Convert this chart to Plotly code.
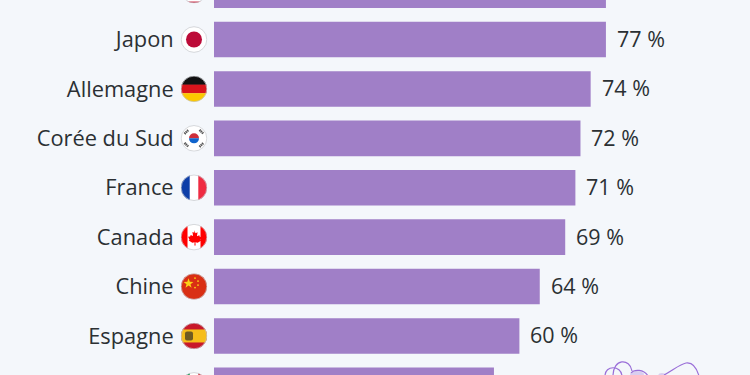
import base64
import plotly.graph_objects as go

countries = ["États-Unis", "Japon", "Allemagne", "Corée du Sud", "France", "Canada", "Chine", "Espagne", "Italie"]
values = [77, 77, 74, 72, 71, 69, 64, 60, 55]
value_labels = ["77 %", "77 %", "74 %", "72 %", "71 %", "69 %", "64 %", "60 %", "55 %"]

BG = "#f4f7fb"
BAR = "#a07fc7"
TXT = "#2b3033"
SCRIBBLE = "#9a6fd8"

FLAGS = {
    "États-Unis": '<rect width="26" height="26" fill="#fff"/><path d="M0 2H26M0 6H26M0 10H26M0 14H26M0 18H26M0 22H26M0 25.5H26" stroke="#d0304a" stroke-width="2"/><rect width="13" height="12" fill="#2a3f80"/>',
    "Japon": '<rect width="26" height="26" fill="#fff"/><circle cx="13" cy="13" r="8" fill="#bc0b38"/>',
    "Allemagne": '<rect width="26" height="9" fill="#111"/><rect y="8.7" width="26" height="8.7" fill="#d8141c"/><rect y="17.3" width="26" height="8.7" fill="#fcc800"/>',
    "Corée du Sud": '<rect width="26" height="26" fill="#fff"/><path d="M8 13a5 5 0 0 1 10 0z" fill="#cd2e3a"/><path d="M8 13a5 5 0 0 0 10 0z" fill="#0f64cd"/><path d="M3.5 8.5L7.5 4.5M18.5 4.5L22.5 8.5M3.5 17.5L7.5 21.5M18.5 21.5L22.5 17.5" stroke="#555" stroke-width="2.4" stroke-dasharray="1.4 .5"/>',
    "France": '<rect width="9" height="26" fill="#0d3ea8"/><rect x="8.7" width="8.7" height="26" fill="#fff"/><rect x="17.3" width="8.7" height="26" fill="#ef2b41"/>',
    "Canada": '<rect width="26" height="26" fill="#fff"/><rect width="6.5" height="26" fill="#f00"/><rect x="19.5" width="6.5" height="26" fill="#f00"/><path d="M13 6l1.6 3 2-.8-.7 4 2.4-1 .6 1.6 2-.2-1.4 3 .8.8-3.6 2.2-2.3-.4.2 3.2h-1.2l.2-3.2-2.3.4-3.6-2.2.8-.8-1.4-3 2-.2.6-1.6 2.4 1-.7-4 2 .8z" fill="#f00"/>',
    "Chine": '<rect width="26" height="26" fill="#d92f14"/><path d="M7.5 4.8l1.3 3.5 3.6.1-2.9 2.2 1.1 3.5-3.1-2.1-3 2.1 1-3.5-2.9-2.2 3.7-.1z" fill="#fcd116"/><circle cx="14" cy="4.5" r=".9" fill="#fcd116"/><circle cx="17" cy="7.5" r=".9" fill="#fcd116"/><circle cx="17" cy="11.5" r=".9" fill="#fcd116"/><circle cx="14" cy="14" r=".9" fill="#fcd116"/>',
    "Espagne": '<rect width="26" height="26" fill="#c8182a"/><rect y="6.5" width="26" height="13" fill="#f6bd1a"/><rect x="4" y="8.5" width="8" height="9" rx="2" fill="#6f5a22"/>',
    "Italie": '<rect width="9" height="26" fill="#009246"/><rect x="8.7" width="8.7" height="26" fill="#fff"/><rect x="17.3" width="8.7" height="26" fill="#ce2b37"/>',
}


def flag_uri(body):
    svg = ('<svg xmlns="http://www.w3.org/2000/svg" width="78" height="78" viewBox="-0.5 -0.5 27 27">'
           '<defs><clipPath id="c"><circle cx="13" cy="13" r="13"/></clipPath></defs>'
           f'<g clip-path="url(#c)">{body}</g>'
           '<circle cx="13" cy="13" r="12.8" fill="none" stroke="#c4c7cb" stroke-width="0.7"/></svg>')
    return "data:image/svg+xml;base64," + base64.b64encode(svg.encode()).decode()


fig = go.Figure(go.Bar(
    x=values, y=countries, orientation="h", width=0.72,
    marker=dict(color=BAR, line=dict(width=0)),
    hoverinfo="skip",
))

annotations = [
    dict(x=v, y=c, text=t, xref="x", yref="y", xanchor="left", yanchor="middle",
         xshift=9, yshift=1, showarrow=False, font=dict(family="Open Sans", size=21.5, color=TXT))
    for c, v, t in zip(countries, values, value_labels)
]
images = [
    dict(source=flag_uri(FLAGS[c]), xref="paper", yref="y", x=-0.0373, y=c,
         sizex=27 / 536, sizey=27 / 49.4, xanchor="center", yanchor="middle",
         sizing="stretch", layer="above")
    for c in countries
]

fig.update_layout(
    width=750, height=375,
    margin=dict(l=214, r=0, t=0, b=0),
    paper_bgcolor=BG, plot_bgcolor=BG,
    showlegend=False,
    annotations=annotations,
    images=images,
    xaxis=dict(range=[0, 536 / 5.09], visible=False, fixedrange=True),
    yaxis=dict(
        type="category", categoryorder="array", categoryarray=countries,
        range=[7.79, 0.2], showgrid=False, zeroline=False, showline=False,
        ticks="outside", ticklen=35, tickcolor="rgba(0,0,0,0)", automargin=False,
        tickfont=dict(family="Open Sans", size=21.8, color=TXT), fixedrange=True,
    ),
)


def px(x, y):
    return f"{(x - 214) / 536:.4f} {1 - y / 375:.4f}"


# Decorative scribble at the bottom right of the reference (page pixels converted to paper)
scribble = [
    [(605, 376), (605, 365), (621, 365), (622, 376)],
    [(613, 376), (613, 358), (630, 358), (632, 371)],
    [(631, 373), (634, 369), (644, 369), (648, 376)],
    [(664, 375), (672, 371), (680, 364), (686, 363)],
    [(686, 363), (693, 362), (697, 369), (699, 376)],
]
for seg in scribble:
    path = f"M {px(*seg[0])} C {px(*seg[1])} {px(*seg[2])} {px(*seg[3])}"
    fig.add_shape(type="path", xref="paper", yref="paper", layer="above", path=path,
                  line=dict(color=SCRIBBLE, width=1.2), fillcolor="rgba(0,0,0,0)")
for cx, cy, rx in [(637, 374, 7), (662, 376, 4)]:
    fig.add_shape(type="circle", xref="paper", yref="paper", layer="above",
                  x0=(cx - rx - 214) / 536, x1=(cx + rx - 214) / 536,
                  y0=1 - (cy + 3) / 375, y1=1 - (cy - 3) / 375,
                  fillcolor="rgba(154,111,216,0.3)", line=dict(width=0))

fig.write_html(
    "out.html",
    config=dict(displayModeBar=False),
    post_script="document.body.style.margin='0';document.documentElement.style.overflow='hidden';",
)
